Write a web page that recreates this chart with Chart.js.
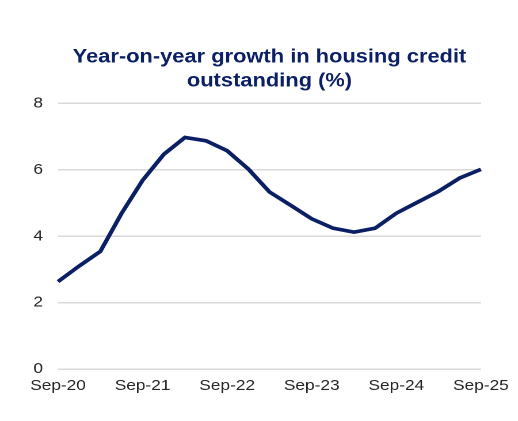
<!DOCTYPE html>
<html>
<head>
<meta charset="utf-8">
<script src="https://cdn.jsdelivr.net/npm/chart.js@4"></script>
<style>
  html, body { margin: 0; padding: 0; background: #fff; overflow: hidden; }
  /* the source image is slightly stretched horizontally */
  #wrap { width: 450px; height: 421px; transform: scaleX(1.151); transform-origin: 0 0; }
</style>
</head>
<body>
<div id="wrap"><canvas id="chart" width="450" height="421"></canvas></div>
<script>
// quarterly, Sep-20 to Sep-25
var QUARTERS = [
    "Sep-20", "Dec-20", "Mar-21", "Jun-21",
    "Sep-21", "Dec-21", "Mar-22", "Jun-22",
    "Sep-22", "Dec-22", "Mar-23", "Jun-23",
    "Sep-23", "Dec-23", "Mar-24", "Jun-24",
    "Sep-24", "Dec-24", "Mar-25", "Jun-25",
    "Sep-25"
];
var GROWTH = [
    2.63, 3.10, 3.54, 4.68,
    5.68, 6.46, 6.97, 6.87,
    6.57, 6.02, 5.33, 4.93,
    4.52, 4.24, 4.12, 4.24,
    4.69, 5.02, 5.35, 5.75,
    6.01
];
var Y_TICKS = [0, 2, 4, 6, 8];

var NAVY = "#0a1f64";

var ctx = document.getElementById("chart").getContext("2d");
var myChart = new Chart(ctx, {
    type: "line",
    data: {
        labels: QUARTERS,
        datasets: [
            {
                label: "Housing credit growth",
                data: GROWTH,
                borderColor: NAVY,
                borderWidth: 3.7,
                pointRadius: 0,
                tension: 0,
                fill: false
            }
        ]
    },
    options: {
        responsive: false,
        animation: false,
        devicePixelRatio: 2,
        layout: {
            padding: { top: 0, right: 29.5, bottom: 22, left: 0 }
        },
        plugins: {
            legend: { display: false },
            tooltip: { enabled: false },
            title: {
                display: true,
                fullSize: false,   // centre over the plot area
                text: ["Year-on-year growth in housing credit", "outstanding (%)"],
                color: NAVY,
                font: { family: "Liberation Sans, Arial", size: 19, weight: "bold", lineHeight: 1.27 },
                padding: { top: 45, bottom: 10 }
            }
        },
        scales: {
            y: {
                min: 0,
                max: 8,
                afterBuildTicks: function (scale) {
                    scale.ticks = Y_TICKS.map(function (v) { return { value: v }; });
                },
                afterFit: function (scale) { scale.width = 50.4; },
                grid: { color: "#d9d9d9", lineWidth: 1.5, drawTicks: false },
                border: { display: false },
                ticks: {
                    color: "#262626",
                    padding: 13,
                    font: { family: "Liberation Sans, Arial", size: 15 }
                }
            },
            x: {
                offset: false,
                afterFit: function (scale) { scale.height = 30; },
                grid: { display: false, drawTicks: false },
                border: { display: false },
                ticks: {
                    color: "#262626",
                    autoSkip: false,
                    maxRotation: 0,
                    padding: 8,
                    font: { family: "Liberation Sans, Arial", size: 15 },
                    callback: function (val, i) {
                        return i % 4 === 0 ? QUARTERS[i] : "";
                    }
                }
            }
        }
    }
});
</script>
</body>
</html>
